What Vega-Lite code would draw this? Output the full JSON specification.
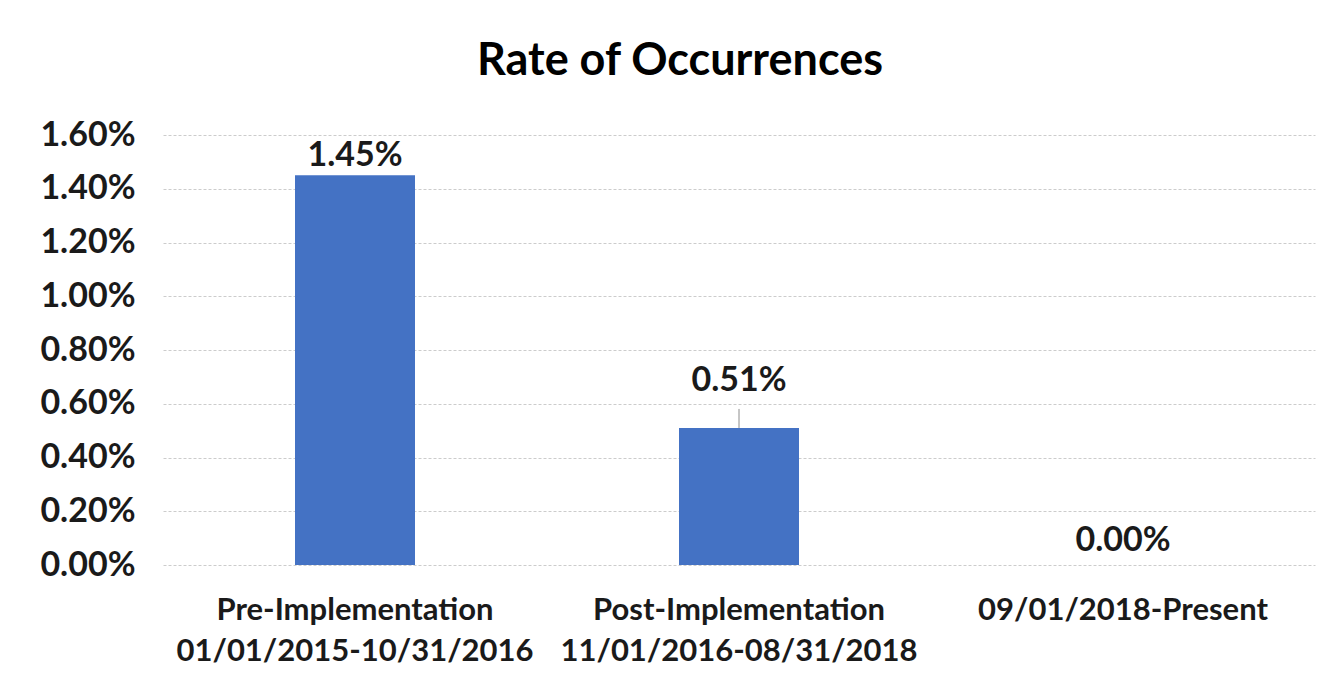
{
  "$schema": "https://vega.github.io/schema/vega-lite/v6.json",
  "width": 1152,
  "height": 430,
  "autosize": {"type": "none"},
  "padding": {"left": 163, "top": 135, "right": 11, "bottom": 118},
  "background": "white",
  "title": {
    "text": "Rate of Occurrences",
    "font": "Lato",
    "fontSize": 45,
    "fontWeight": "bold",
    "color": "#000000",
    "anchor": "middle",
    "frame": "group",
    "dx": -59,
    "offset": 34
  },
  "config": {
    "view": {"stroke": null},
    "font": "Lato"
  },
  "data": {
    "values": [
      {"period": "Pre-Implementation\n01/01/2015-10/31/2016", "rate": 0.0145},
      {"period": "Post-Implementation\n11/01/2016-08/31/2018", "rate": 0.0051},
      {"period": "09/01/2018-Present", "rate": 0.0}
    ]
  },
  "encoding": {
    "x": {
      "field": "period",
      "type": "nominal",
      "sort": null,
      "title": null,
      "scale": {"paddingInner": 0, "paddingOuter": 0},
      "axis": {
        "labelExpr": "split(datum.label, '\\n')",
        "labelAngle": 0,
        "labelLimit": 0,
        "labelFont": "Lato",
        "labelFontSize": 31,
        "labelFontWeight": "bold",
        "labelColor": "#1a1a1a",
        "labelLineHeight": 41,
        "labelPadding": 30,
        "labelBaseline": "top",
        "domain": false,
        "ticks": false,
        "grid": false
      }
    },
    "y": {
      "field": "rate",
      "type": "quantitative",
      "title": null,
      "scale": {"domain": [0, 0.016], "nice": false},
      "axis": {
        "format": ".2%",
        "values": [0, 0.002, 0.004, 0.006, 0.008, 0.01, 0.012, 0.014, 0.016],
        "labelFont": "Lato",
        "labelFontSize": 34,
        "labelFontWeight": "bold",
        "labelColor": "#1a1a1a",
        "labelPadding": 28,
        "domain": false,
        "ticks": false,
        "grid": true,
        "gridColor": "#cccccc",
        "gridDash": [3, 2],
        "gridWidth": 1
      }
    }
  },
  "layer": [
    {
      "mark": {"type": "bar", "color": "#4472C4", "width": {"band": 0.3125}}
    },
    {
      "transform": [{"filter": "datum.rate > 0.01"}],
      "mark": {"type": "text", "font": "Lato", "fontSize": 34, "fontWeight": "bold", "color": "#1a1a1a", "baseline": "alphabetic", "dy": -9},
      "encoding": {"text": {"field": "rate", "type": "quantitative", "format": ".2%"}}
    },
    {
      "transform": [{"filter": "datum.rate > 0.001 && datum.rate < 0.01"}],
      "mark": {"type": "text", "font": "Lato", "fontSize": 34, "fontWeight": "bold", "color": "#1a1a1a", "baseline": "alphabetic", "dy": -37},
      "encoding": {"text": {"field": "rate", "type": "quantitative", "format": ".2%"}}
    },
    {
      "transform": [{"filter": "datum.rate > 0.001 && datum.rate < 0.01"}],
      "mark": {"type": "rule", "color": "#8c8c8c", "strokeWidth": 1, "yOffset": 0, "y2Offset": -19},
      "encoding": {"y2": {"field": "rate"}}
    },
    {
      "transform": [{"filter": "datum.rate <= 0.001"}],
      "mark": {"type": "text", "font": "Lato", "fontSize": 34, "fontWeight": "bold", "color": "#1a1a1a", "baseline": "alphabetic", "dy": -14},
      "encoding": {"text": {"field": "rate", "type": "quantitative", "format": ".2%"}}
    }
  ]
}
